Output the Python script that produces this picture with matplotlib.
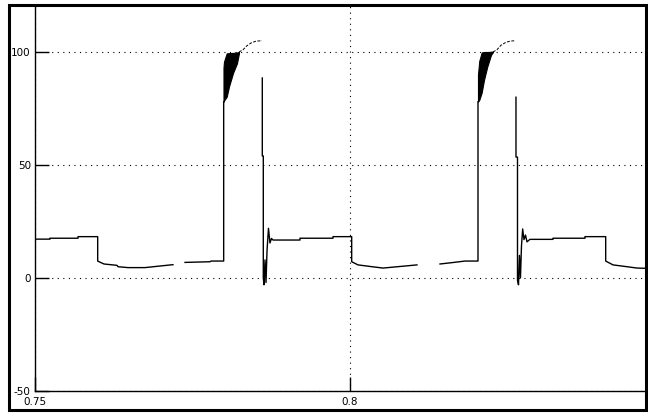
import numpy as np
import matplotlib
matplotlib.use("Agg")
import matplotlib.pyplot as plt
from matplotlib.patches import Rectangle

nan = np.nan

# main trace (time, value); NaN = break in the trace
t_main = [0.75000, 0.75238, 0.75238, 0.75683, 0.75683, 0.75995, 0.75995, 0.76032, 0.76095,
          0.76302, 0.76317, 0.76476, 0.76746, 0.76984, 0.77190, nan,
          0.77381, 0.77778, 0.77794, 0.77995, 0.77995, nan,
          0.78608, 0.78608, 0.78624, 0.78624, 0.78635, 0.78651, 0.78667, 0.78683, 0.78706,
          0.78730, 0.78754, 0.78778, 0.79206, 0.79206, 0.79730, 0.79730, 0.80027, 0.80027,
          0.80127, 0.80349, 0.80524, 0.80873, 0.81063, nan,
          0.81429, 0.81619, 0.81825, 0.82032, 0.82032, nan,
          0.82635, 0.82635, 0.82659, 0.82659, 0.82675, 0.82690, 0.82706, 0.82722, 0.82741,
          0.82762, 0.82786, 0.82810, 0.82857, 0.83222, 0.83222, 0.83730, 0.83730, 0.84059,
          0.84059, 0.84175, 0.84397, 0.84556, 0.84683]
v_main = [17.2, 17.2, 17.6, 17.6, 18.3, 18.3, 7.5, 7.0, 6.2,
          5.6, 5.0, 4.6, 4.6, 5.3, 5.9, nan,
          6.9, 7.2, 7.5, 7.5, 78.0, nan,
          88.5, 54.0, 54.0, 0.0, -3.0, 8.0, -2.0, 12.0, 22.0,
          15.5, 17.5, 16.8, 16.8, 17.6, 17.6, 18.3, 18.3, 7.2,
          5.8, 5.0, 4.4, 5.3, 5.8, nan,
          6.2, 6.8, 7.5, 7.5, 78.0, nan,
          80.0, 53.5, 53.5, -1.0, -3.0, 10.0, 0.0, 14.0, 21.7,
          17.0, 19.0, 16.0, 17.1, 17.1, 17.6, 17.6, 18.3, 18.3,
          7.5, 5.8, 5.0, 4.4, 4.3]

# dense oscillation bands at the top of each pulse
t_band1 = [0.77992, 0.78000, 0.78043, 0.78079, 0.78143, 0.78206, 0.78238]
lo_band1 = [78.0, 78.5, 80.2, 84.7, 90.7, 95.0, 99.5]
hi_band1 = [93.0, 95.7, 99.4, 99.5, 99.6, 99.8, 100.0]

t_band2 = [0.82032, 0.82052, 0.82090, 0.82127, 0.82179, 0.82238, 0.82270]
lo_band2 = [78.0, 78.8, 82.0, 87.6, 93.5, 98.7, 100.0]
hi_band2 = [90.0, 96.0, 99.8, 100.0, 100.0, 100.1, 100.2]

# thin curves above the bands
t_cap1 = [0.78238, 0.78302, 0.78365, 0.78429, 0.78508, 0.78603]
v_cap1 = [100.0, 101.0, 102.8, 104.0, 104.8, 105.0]
t_cap2 = [0.82270, 0.82333, 0.82397, 0.82476, 0.82540, 0.82619]
v_cap2 = [100.0, 101.0, 103.0, 104.3, 104.8, 105.0]

x_ticks = [0.75, 0.8]
x_labels = ["0.75", "0.8"]
y_ticks = [-50, 0, 50, 100]
y_labels = ["-50", "0", "50", "100"]

W, H = 648, 413
fig = plt.figure(figsize=(W / 100, H / 100), dpi=100)
fig.patch.set_facecolor("white")
ax = fig.add_axes([35 / W, (H - 391) / H, (645 - 35) / W, (391 - 5) / H])

ax.plot(t_main, v_main, color="black", lw=1.0)
ax.fill_between(t_band1, lo_band1, hi_band1, color="black", lw=0.8)
ax.fill_between(t_band2, lo_band2, hi_band2, color="black", lw=0.8)
ax.plot(t_cap1, v_cap1, color="black", lw=0.7, linestyle=(0, (3, 1.5)))
ax.plot(t_cap2, v_cap2, color="black", lw=0.7, linestyle=(0, (3, 1.5)))

ax.set_xlim(0.75, 0.84683)
ax.set_ylim(-50, 120.8)
ax.set_xticks(x_ticks)
ax.set_xticklabels(x_labels)
ax.set_yticks(y_ticks)
ax.set_yticklabels(y_labels)
ax.tick_params(axis="both", direction="in", length=10, width=1.0, labelsize=7.5,
               colors="black")
ax.tick_params(axis="y", pad=3)
ax.tick_params(axis="x", pad=4)
ax.grid(True, color="black", linestyle=(0, (1, 4)), linewidth=0.8)
for s in ["top", "right"]:
    ax.spines[s].set_visible(False)
for s in ["left", "bottom"]:
    ax.spines[s].set_linewidth(1.0)

fig.patches.append(Rectangle((9 / W, (H - 410) / H), (646 - 9) / W, (410 - 5) / H,
                             transform=fig.transFigure, fill=False,
                             edgecolor="black", linewidth=2.2, zorder=10))

fig.savefig("out.png", dpi=100)
